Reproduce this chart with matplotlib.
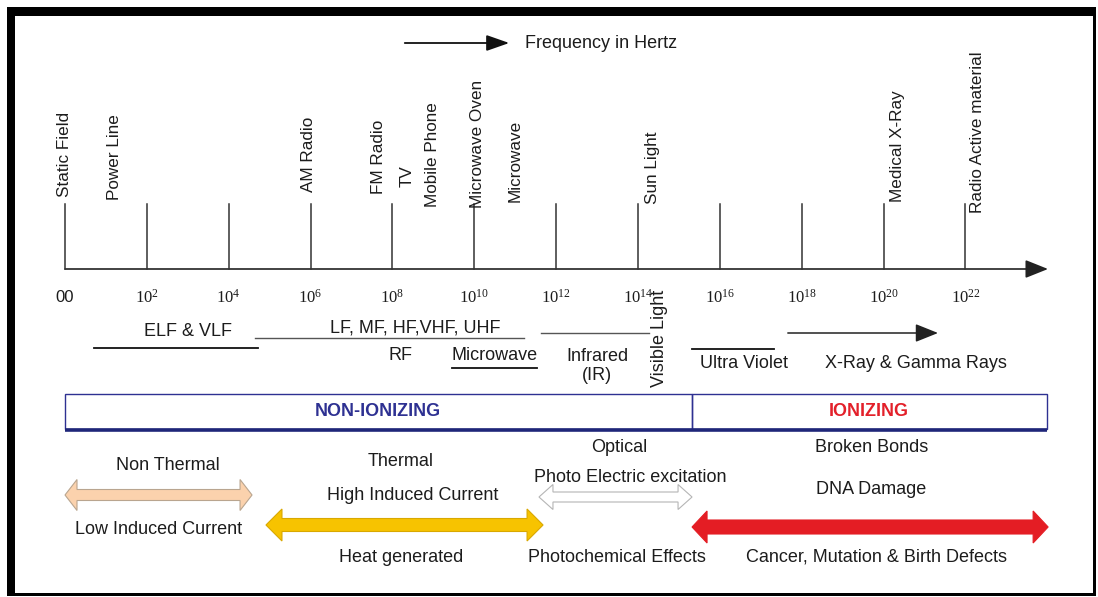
import matplotlib
matplotlib.use("Agg")
import matplotlib.pyplot as plt
from matplotlib.patches import Polygon, Rectangle, FancyArrowPatch

# ---------------- data (x = log10 of frequency in Hz) ----------------
tick_exponents = [0, 2, 4, 6, 8, 10, 12, 14, 16, 18, 20, 22]
tick_labels = ["00", "$10^{2}$", "$10^{4}$", "$10^{6}$", "$10^{8}$", "$10^{10}$",
               "$10^{12}$", "$10^{14}$", "$10^{16}$", "$10^{18}$", "$10^{20}$", "$10^{22}$"]

source_names = ["Static Field", "Power Line", "AM Radio", "FM Radio", "TV", "Mobile Phone",
                "Microwave Oven", "Microwave", "Sun Light", "Medical X-Ray",
                "Radio Active material"]
source_exponents = [0.0, 1.22, 5.96, 7.67, 8.36, 8.99, 10.07, 10.99, 14.35, 20.35, 22.29]

band_names = ["ELF & VLF", "LF, MF, HF,VHF, UHF", "Microwave", "Infrared\n(IR)",
              "Ultra Violet", "X-Ray & Gamma Rays"]
band_starts = [0.71, 4.64, 9.46, 11.63, 15.32, 17.66]
band_ends = [4.72, 11.21, 11.53, 14.27, 17.32, 21.33]
band_label_x = [3.0, 8.55, 10.5, 13.0, 16.59, 20.79]

region_names = ["NON-IONIZING", "IONIZING"]
region_starts = [0.0, 15.32]
region_ends = [15.32, 23.99]
region_label_x = [7.65, 19.64]

effect_starts = [0.0, 4.91, 11.58, 15.32]
effect_ends = [4.57, 11.68, 15.32, 24.02]
effect_top_text = [["Non Thermal"], ["Thermal", "High Induced Current"],
                   ["Optical", "Photo Electric excitation"], ["Broken Bonds", "DNA Damage"]]
effect_bottom_text = ["Low Induced Current", "Heat generated", "Photochemical Effects",
                      "Cancer, Mutation & Birth Defects"]

# ---------------- figure ----------------
plt.rcParams['font.family'] = ['Liberation Sans', 'DejaVu Sans']
plt.rcParams['mathtext.fontset'] = 'custom'
plt.rcParams['mathtext.rm'] = 'Liberation Serif'
plt.rcParams['mathtext.it'] = 'Liberation Serif:italic'

W, H = 1098, 597
fig = plt.figure(figsize=(W / 100, H / 100), dpi=100)
ax = fig.add_axes([0, 0, 1, 1])
PX0, PXU = 65.0, 40.93          # pixel of exponent 0, pixels per exponent unit
ax.set_xlim(-PX0 / PXU, (W - PX0) / PXU)
ax.set_ylim(H, 0)
ax.axis('off')


def px(p):
    """pixel column -> axis units (layout helper)"""
    return (p - PX0) / PXU


TXT = '#1c1c1c'
NAVY = '#2e3192'

# frame
ax.add_patch(Rectangle((px(7), 7), px(15) - px(7), 588, color='black', lw=0))
ax.add_patch(Rectangle((px(7), 7), px(1095) - px(7), 9, color='black', lw=0))
ax.add_patch(Rectangle((px(1093), 7), px(1096) - px(1093), 589, color='black', lw=0))
ax.add_patch(Rectangle((px(7), 593), px(1096) - px(7), 2.5, color='black', lw=0))

# frequency arrow + caption
ax.add_patch(FancyArrowPatch((px(402), 43), (px(512), 43),
                             arrowstyle='-|>,head_length=1.0,head_width=0.35',
                             mutation_scale=14, color='#111111', lw=1.3))
ax.text(px(525), 44, "Frequency in Hertz", fontsize=13, color=TXT, ha='left', va='center')

# main axis
AXY = 269
ax.add_patch(FancyArrowPatch((tick_exponents[0], AXY), (px(1048), AXY),
                             arrowstyle='-|>,head_length=1.0,head_width=0.4',
                             mutation_scale=14, color='#222222', lw=1.2,
                             shrinkA=0, shrinkB=0))
for e, lab in zip(tick_exponents, tick_labels):
    ax.plot([e, e], [204, AXY], color='#333333', lw=1.1)
    if lab == "00":
        ax.text(e, 298, lab, fontsize=12, ha='center', va='center', color=TXT)
    else:
        ax.text(e, 297, lab, fontsize=12, ha='center', va='center', color=TXT)

# radiation sources (rotated)
source_bottoms = [197, 200, 192, 194, 187, 207, 208, 202, 204, 202, 213]
for name, e, b in zip(source_names, source_exponents, source_bottoms):
    ax.text(e, b, name, rotation=90, fontsize=12.3, ha='center', va='bottom', color=TXT)

# bands
ax.plot([band_starts[0], band_ends[0]], [348, 348], color='#111111', lw=1.3)
ax.text(band_label_x[0], 331, band_names[0], fontsize=13, ha='center', va='center', color=TXT)
ax.plot([band_starts[1], band_ends[1]], [338, 338], color='#555555', lw=1.0)
ax.text(band_label_x[1], 328, band_names[1], fontsize=13, ha='center', va='center', color=TXT)
ax.text(px(400), 355, "RF", fontsize=13, ha='center', va='center', color=TXT)
ax.text(band_label_x[2], 355, band_names[2], fontsize=13, ha='center', va='center', color=TXT)
ax.plot([band_starts[2], band_ends[2]], [368, 368], color='#111111', lw=1.3)
ax.plot([band_starts[3], band_ends[3]], [333, 333], color='#555555', lw=1.0)
ax.text(band_label_x[3], 366, band_names[3], fontsize=13, ha='center', va='center',
        color=TXT, linespacing=1.15)
ax.text(px(659), 338, "Visible Light", rotation=90, fontsize=13, ha='center', va='center',
        color=TXT)
ax.plot([band_starts[4], band_ends[4]], [349, 349], color='#111111', lw=1.3)
ax.text(band_label_x[4], 364, band_names[4], fontsize=13, ha='center', va='center', color=TXT)
ax.add_patch(FancyArrowPatch((band_starts[5], 333), (band_ends[5], 333),
                             arrowstyle='-|>,head_length=1.0,head_width=0.4',
                             mutation_scale=14, color='#222222', lw=1.1,
                             shrinkA=0, shrinkB=0))
ax.text(band_label_x[5], 364, band_names[5], fontsize=13, ha='center', va='center', color=TXT)

# ionizing / non-ionizing box
BT, BB = 394, 429
for s, e_, name, lx, col in zip(region_starts, region_ends, region_names, region_label_x,
                                [NAVY, '#e3202a']):
    ax.add_patch(Rectangle((s, BT), e_ - s, BB - BT, fill=False, ec=NAVY, lw=1.0))
    ax.text(lx, 412, name, fontsize=13, fontweight='bold', ha='center', va='center', color=col)
ax.plot([region_starts[0], region_ends[1]], [BB + 1, BB + 1], color='#1f2679', lw=2.6,
        solid_capstyle='butt')


# effects
def double_arrow(x0, x1, yc, body, head, hlen_px, fc, ec, lw=0.8):
    hl = hlen_px / PXU
    pts = [(x0, yc), (x0 + hl, yc - head), (x0 + hl, yc - body), (x1 - hl, yc - body),
           (x1 - hl, yc - head), (x1, yc), (x1 - hl, yc + head), (x1 - hl, yc + body),
           (x0 + hl, yc + body), (x0 + hl, yc + head)]
    ax.add_patch(Polygon(pts, closed=True, fc=fc, ec=ec, lw=lw, joinstyle='miter'))


double_arrow(effect_starts[0], effect_ends[0], 495, 5.5, 15.5, 12, '#fbd2ad', '#b9a58f')
double_arrow(effect_starts[1], effect_ends[1], 525, 6.5, 16, 16, '#f7c300', '#d9a800')
double_arrow(effect_starts[2], effect_ends[2], 497, 5, 12.5, 14, 'white', '#b5b5b5')
double_arrow(effect_starts[3], effect_ends[3], 527, 7, 16, 15, '#e41d24', '#e41d24')

top_x = [[px(168)], [px(401), px(413)], [px(619), px(630)], [px(872), px(871)]]
top_y = [[465], [462, 495], [448, 477], [448, 490]]
for texts, xs, ys in zip(effect_top_text, top_x, top_y):
    for t, x, y in zip(texts, xs, ys):
        ax.text(x, y, t, fontsize=13, ha='center', va='center', color=TXT)

bottom_x = [px(159), px(401), px(617), px(876)]
bottom_y = [529, 557, 557, 557]
for t, x, y in zip(effect_bottom_text, bottom_x, bottom_y):
    ax.text(x, y, t, fontsize=13, ha='center', va='center', color=TXT)

fig.savefig("out.png", dpi=100, facecolor='white')
